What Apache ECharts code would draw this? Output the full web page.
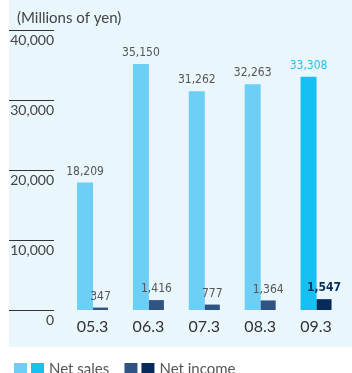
<!DOCTYPE html>
<html>
<head>
<meta charset="utf-8">
<script src="https://cdn.jsdelivr.net/npm/echarts@6/dist/echarts.min.js"></script>
<style>
  html, body { margin: 0; padding: 0; background: #ffffff; }
  #chart { width: 352px; height: 373px; }
</style>
</head>
<body>
<div id="chart"></div>
<script>
// Fiscal years (ending March)
const categories = ['05.3', '06.3', '07.3', '08.3', '09.3'];
// Millions of yen
const netSales = [18209, 35150, 31262, 32263, 33308];
const netIncome = [347, 1416, 777, 1364, 1547];
const yTicks = [0, 10000, 20000, 30000, 40000];

const lastIdx = categories.length - 1;
// Past years and the latest year are drawn as two stacked series so the latest year gets its own colour
const past = arr => arr.map((v, i) => (i === lastIdx ? '-' : v));
const latest = arr => arr.map((v, i) => (i === lastIdx ? v : '-'));

const fmt = v => v.toLocaleString('en-US');
const labelFont = '"DejaVu Sans Condensed", "Liberation Sans Narrow", sans-serif';

// Legend: the past-year swatch shows no text; extra space follows the sales entry
const legendText = name => {
  if (name.endsWith('_past')) return '';
  return name === 'Net sales' ? name + '\u2003' : name;
};

const chart = echarts.init(document.getElementById('chart'), null, { renderer: 'canvas' });

chart.setOption({
  animation: false,
  graphic: [
    { type: 'rect', shape: { x: 9, y: 0, width: 343, height: 347 }, style: { fill: '#e9f6fc' }, z: -10 },
    { type: 'text', left: 17, top: 11, style: { text: '(Millions of yen)', font: '15px Lato, sans-serif', fill: '#444' } }
  ],
  legend: {
    left: 9,
    top: 357,
    itemWidth: 13,
    itemHeight: 13,
    itemGap: 4,
    icon: 'rect',
    selectedMode: false,
    data: ['sales_past', 'Net sales', 'income_past', 'Net income'],
    formatter: legendText,
    textStyle: { fontFamily: 'Lato, sans-serif', fontSize: 15, color: '#555' }
  },
  grid: [
    { left: 64.6, right: 8, top: 30, bottom: 63 },
    { left: 9, width: 45, top: 30, bottom: 63 }
  ],
  xAxis: [
    {
      type: 'category', gridIndex: 0, data: categories,
      axisLine: { show: false }, axisTick: { show: false },
      axisLabel: { fontFamily: 'Lato, sans-serif', fontSize: 16, color: '#333', margin: 9 }
    },
    { type: 'value', gridIndex: 1, show: false }
  ],
  yAxis: [
    { type: 'value', gridIndex: 0, min: 0, max: 40000, interval: 10000, show: false },
    {
      type: 'value', gridIndex: 1, min: yTicks[0], max: yTicks[yTicks.length - 1], interval: 10000,
      position: 'right',
      axisLine: { show: false }, axisTick: { show: false },
      splitLine: { show: true, lineStyle: { color: '#333', width: 1 } },
      axisLabel: {
        inside: true, margin: 0, verticalAlign: 'top', padding: [3, 0, 0, 0],
        fontFamily: 'Lato, sans-serif', fontSize: 14, color: '#444',
        formatter: v => fmt(v)
      }
    }
  ],
  series: [
    {
      name: 'sales_past', type: 'bar', stack: 'sales', data: past(netSales),
      barWidth: 16, barGap: '0%',
      itemStyle: { color: '#6dcff6' },
      label: { show: true, position: 'top', distance: 5, formatter: p => fmt(p.value), fontFamily: labelFont, fontSize: 12, color: '#555' }
    },
    {
      name: 'Net sales', type: 'bar', stack: 'sales', data: latest(netSales),
      barWidth: 16, barGap: '0%',
      itemStyle: { color: '#16c1f2' },
      label: { show: true, position: 'top', distance: 5, formatter: p => fmt(p.value), fontFamily: labelFont, fontSize: 12, color: '#26c0f1' }
    },
    {
      name: 'income_past', type: 'bar', stack: 'income', data: past(netIncome),
      barWidth: 15, barGap: '0%',
      itemStyle: { color: '#2f5483' },
      label: { show: true, position: 'top', distance: 5, formatter: p => fmt(p.value), fontFamily: labelFont, fontSize: 12, color: '#555' }
    },
    {
      name: 'Net income', type: 'bar', stack: 'income', data: latest(netIncome),
      barWidth: 15, barGap: '0%',
      itemStyle: { color: '#062a5a' },
      label: { show: true, position: 'top', distance: 5, formatter: p => fmt(p.value), fontFamily: labelFont, fontSize: 12, fontWeight: 'bold', color: '#0b2d5c' }
    }
  ]
});
</script>
</body>
</html>
